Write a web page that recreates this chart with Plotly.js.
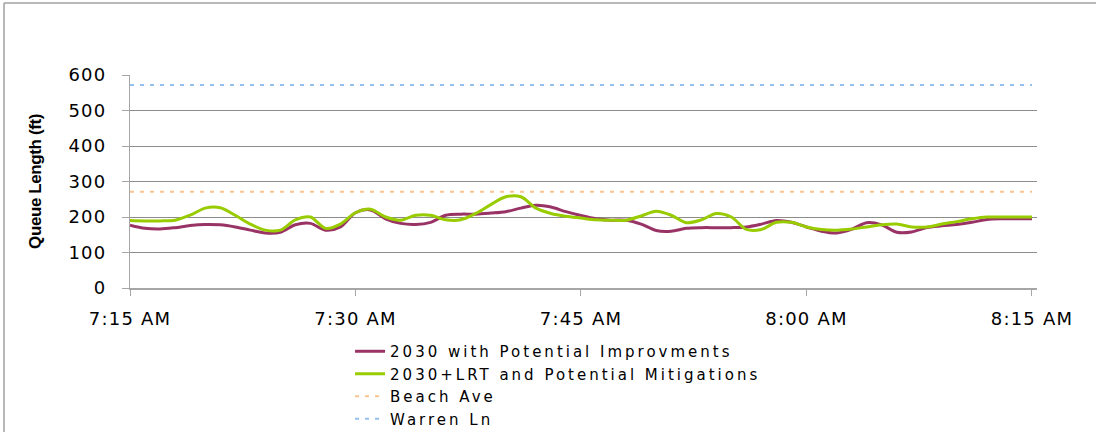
<!DOCTYPE html>
<html>
<head>
<meta charset="utf-8">
<script src="https://cdn.plot.ly/plotly-3.0.1.min.js"></script>
<style>
  html, body { margin: 0; padding: 0; background: #fff; }
  #chart { width: 1096px; height: 432px; }
  .xtick text, .ytick text { letter-spacing: 1.2px; }
  .legendtext { letter-spacing: 3px; }
  .ytitle { letter-spacing: -0.4px; }
</style>
</head>
<body>
<div id="chart"></div>
<script>
// Minutes after 7:15 AM (one reading per minute)
const minutes = [];
for (let m = 0; m <= 60; m++) minutes.push(m);

const seriesNames = [
  "2030 with Potential Improvments",
  "2030+LRT and Potential Mitigations",
  "Beach Ave",
  "Warren Ln"
];

// 2030 with Potential Improvments (ft)
const improvements = [
  177, 168, 166, 170, 176, 179, 178, 172, 163, 155,
  157, 178, 182, 163, 172, 212, 220, 195, 182, 179,
  185, 205, 208, 208, 211, 215, 225, 233, 228, 215,
  204, 195, 191, 191, 180, 162, 160, 168, 170, 170,
  170, 172, 180, 190, 185, 172, 160, 155, 165, 184,
  178, 157, 158, 170, 175, 179, 185, 193, 195, 195,
  195
];

// 2030+LRT and Potential Mitigations (ft)
const mitigations = [
  190, 189, 189, 191, 205, 225, 226, 205, 180, 163,
  163, 192, 200, 168, 180, 212, 222, 200, 191, 205,
  205, 192, 192, 210, 235, 257, 257, 225, 210, 202,
  197, 192, 191, 191, 203, 216, 205, 184, 192, 210,
  200, 165, 165, 185, 185, 172, 165, 163, 166, 172,
  178, 180, 172, 172, 180, 187, 195, 200, 200, 200,
  200
];

// Storage lengths (ft)
const beachAve = 271;
const warrenLn = 572;

const times = minutes.map(m => {
  const t = new Date(Date.UTC(2000, 0, 1, 7, 15 + m, 0));
  return t.toISOString().slice(0, 19).replace('T', ' ');
});
const beachSeries = minutes.map(() => beachAve);
const warrenSeries = minutes.map(() => warrenLn);

const tickTimes = ["2000-01-01 07:15:00", "2000-01-01 07:30:00", "2000-01-01 07:45:00", "2000-01-01 08:00:00", "2000-01-01 08:15:00"];

const traces = [
  { x: times, y: improvements, name: seriesNames[0], type: 'scatter', mode: 'lines',
    line: { color: '#993366', width: 3, shape: 'spline', smoothing: 0.9 } },
  { x: times, y: mitigations, name: seriesNames[1], type: 'scatter', mode: 'lines',
    line: { color: '#99cc00', width: 3, shape: 'spline', smoothing: 0.9 } },
  { x: times, y: beachSeries, name: seriesNames[2], type: 'scatter', mode: 'lines',
    line: { color: '#fac38f', width: 2, dash: '4px,6px' } },
  { x: times, y: warrenSeries, name: seriesNames[3], type: 'scatter', mode: 'lines',
    line: { color: '#95bff0', width: 2, dash: '4px,6px' } }
];

const layout = {
  width: 1096, height: 432,
  margin: { l: 130, r: 59, t: 75, b: 144 },
  paper_bgcolor: '#ffffff', plot_bgcolor: '#ffffff',
  font: { family: 'DejaVu Sans, Verdana, sans-serif', size: 17, color: '#000' },
  showlegend: true,
  legend: {
    xref: 'paper', yref: 'container',
    x: 0.2426, xanchor: 'left', y: 0.2245, yanchor: 'top',
    font: { family: 'DejaVu Sans, Verdana, sans-serif', size: 15, color: '#000' },
    bgcolor: 'rgba(0,0,0,0)', borderwidth: 0, traceorder: 'normal'
  },
  xaxis: {
    type: 'date',
    range: ["2000-01-01 07:15:00", "2000-01-01 08:15:20"],
    tickvals: tickTimes, tickformat: '%-I:%M %p',
    showgrid: false, zeroline: false,
    showline: true, linecolor: '#a6a6a6', linewidth: 1.5,
    ticks: 'outside', ticklen: 6, tickcolor: '#a6a6a6', tickwidth: 1,
    ticklabelstandoff: 8,
    tickfont: { family: 'DejaVu Sans, Verdana, sans-serif', size: 18, color: '#000' }
  },
  yaxis: {
    range: [0, 600], tickvals: [0, 100, 200, 300, 400, 500, 600],
    showgrid: true, gridcolor: '#8c8c8c', gridwidth: 1,
    zeroline: false,
    showline: true, linecolor: '#a6a6a6', linewidth: 1,
    ticks: 'outside', ticklen: 7, tickcolor: '#a6a6a6', tickwidth: 1,
    ticklabelstandoff: 12,
    tickfont: { family: 'DejaVu Sans, Verdana, sans-serif', size: 18, color: '#000' },
    title: { text: 'Queue Length (ft)', standoff: 22,
      font: { family: 'Liberation Sans, Arial, sans-serif', size: 17, color: '#000', weight: 'bold' } }
  },
  shapes: [
    { type: 'line', xref: 'paper', yref: 'paper',
      x0: -0.1389, x1: 1.07, y0: 1.338, y1: 1.338,
      line: { color: '#a0a0a0', width: 1.5 }, layer: 'below' },
    { type: 'line', xref: 'paper', yref: 'paper',
      x0: -0.1389, x1: -0.1389, y0: -0.68, y1: 1.338,
      line: { color: '#a0a0a0', width: 1.5 }, layer: 'below' }
  ]
};

Plotly.newPlot('chart', traces, layout, { displayModeBar: false, staticPlot: true });
</script>
</body>
</html>
